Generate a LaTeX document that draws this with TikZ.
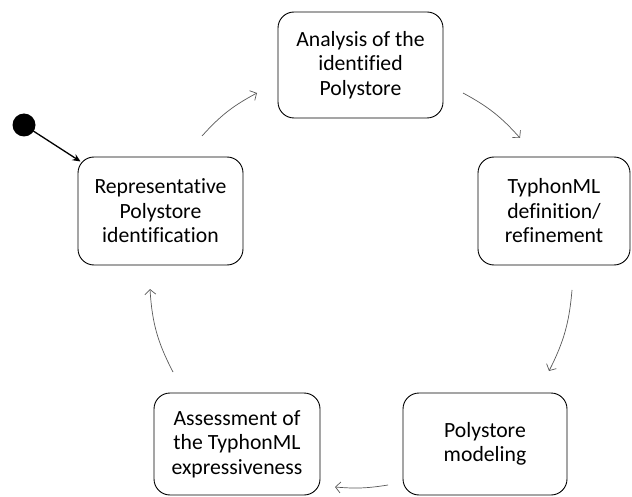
\documentclass[tikz,border=0pt]{standalone}
\usepackage{fontspec}
\setmainfont{Carlito}[Ligatures=NoCommon]
\usetikzlibrary{arrows.meta}
\begin{document}
\begin{tikzpicture}[x=1pt,y=-1pt,
  stage/.style={draw=black, line width=0.9pt, rounded corners=16pt, align=center,
    inner sep=0pt, font=\fontsize{21.7}{24.5}\selectfont},
  flow/.style={draw=black!65, line width=0.7pt, -{Straight Barb[length=5pt,width=11pt]}},
  start/.style={draw=black, line width=1.3pt, -{Stealth[length=8pt,width=7pt]}}]
  \useasboundingbox (0,0) rectangle (632,497);

  % process stages
  \node[stage, minimum width=165pt, minimum height=106pt] (ana) at (360.5,65)
    {Analysis of the\\identified\\Polystore};
  \node[stage, minimum width=152pt, minimum height=108pt] (typ) at (554,211)
    {TyphonML\\definition/\\refinement};
  \node[stage, minimum width=164pt, minimum height=102pt] (pol) at (485,444)
    {Polystore\\modeling};
  \node[stage, minimum width=166pt, minimum height=102pt] (ass) at (237,444)
    {Assessment of\\the TyphonML\\expressiveness};
  \node[stage, minimum width=165pt, minimum height=108pt] (rep) at (160.5,211)
    {Representative\\Polystore\\identification};

  % initial state
  \fill[black] (24,125) circle (11.5pt);
  \coordinate (init) at (24,125);
  \draw[start] (init) -- (80.5,161.5);

  % cycle arrow ends
  \coordinate (a1) at (202,136);  \coordinate (b1) at (257,93);
  \coordinate (a2) at (463,93);   \coordinate (b2) at (520,138);
  \coordinate (a3) at (572,290);  \coordinate (b3) at (549,371);
  \coordinate (a4) at (388,485);  \coordinate (b4) at (335,487);
  \coordinate (a5) at (173,372);  \coordinate (b5) at (150,289);

  \draw[flow] (a1) to[bend left=10] (b1);
  \draw[flow] (a2) to[bend left=10] (b2);
  \draw[flow] (a3) to[bend left=11] (b3);
  \draw[flow] (a4) to[bend left=7] (b4);
  \draw[flow] (a5) to[bend left=12] (b5);
\end{tikzpicture}
\end{document}
